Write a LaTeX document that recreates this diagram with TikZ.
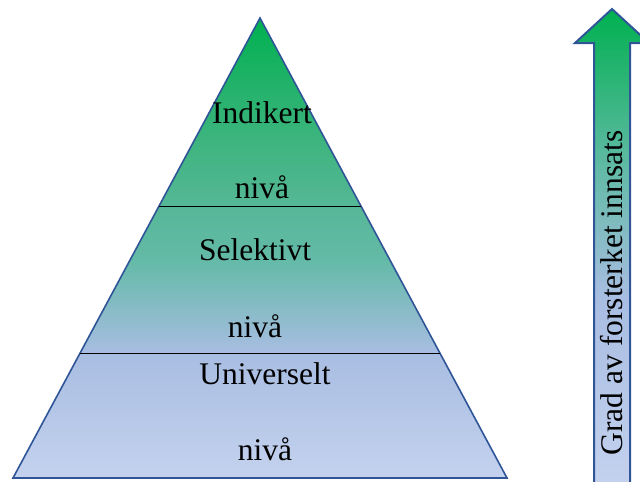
\documentclass[tikz,border=0pt]{standalone}
\usepackage{fontspec}
\setmainfont{Liberation Serif}
\newfontfamily\lserif{Liberation Serif}
\usetikzlibrary{calc}
\definecolor{pgreen}{RGB}{0,176,80}
\definecolor{pc1}{RGB}{60,180,125}
\definecolor{pc2}{RGB}{85,183,150}
\definecolor{pc3}{RGB}{100,186,168}
\definecolor{pc4}{RGB}{168,189,226}
\definecolor{pc5}{RGB}{196,210,238}
\definecolor{edgeblue}{RGB}{47,85,151}
\pgfdeclareverticalshading{pyrshade}{100bp}{color(0bp)=(pc5); color(25bp)=(pc5); color(38.6bp)=(pc4); color(48.7bp)=(pc3); color(54.7bp)=(pc2); color(62bp)=(pc1); color(75bp)=(pgreen); color(100bp)=(pgreen)}
\pgfdeclareverticalshading{arrshade}{100bp}{color(0bp)=(pc5); color(25bp)=(pc5); color(45bp)=(pc4); color(58bp)=(pc3); color(75bp)=(pgreen); color(100bp)=(pgreen)}
\tikzset{
  lbl/.style={anchor=base, inner sep=0pt, font=\lserif\fontsize{31.5}{36}\selectfont},
  divider/.style={draw=black, line width=1pt},
}
\begin{document}
\begin{tikzpicture}[x=1pt,y=-1pt]
\useasboundingbox (0,0) rectangle (640,482);
\clip (0,0) rectangle (640,482);
\coordinate (apex) at (260,18);
\coordinate (bl) at (13,478);
\coordinate (br) at (507,478);
\path[shading=pyrshade, draw=edgeblue, line width=1.6pt, line join=miter]
  (apex) -- (bl) -- (br) -- cycle;
\coordinate (d1l) at ($(apex)!0.4087!(bl)$);
\coordinate (d1r) at ($(apex)!0.4087!(br)$);
\coordinate (d2l) at ($(apex)!0.7304!(bl)$);
\coordinate (d2r) at ($(apex)!0.7304!(br)$);
\draw[divider] (d1l) -- (d1r);
\draw[divider] (d2l) -- (d2r);
\node[lbl] (t1) at (262,123) {Indikert};
\node[lbl] (t2) at (262,198) {nivå};
\node[lbl] (t3) at (255,260) {Selektivt};
\node[lbl] (t4) at (255,337) {nivå};
\node[lbl] (t5) at (265,384) {Universelt};
\node[lbl] (t6) at (265,460) {nivå};
% arrow
\path[shading=arrshade, draw=edgeblue, line width=2pt, line join=miter]
  (594,490) -- (594,43) -- (575,43) -- (612,9) -- (649,43) -- (630,43) -- (630,490) -- cycle;
\node[lbl, rotate=90] (arrtext) at (622,293) {Grad av forsterket innsats};
\end{tikzpicture}
\end{document}
